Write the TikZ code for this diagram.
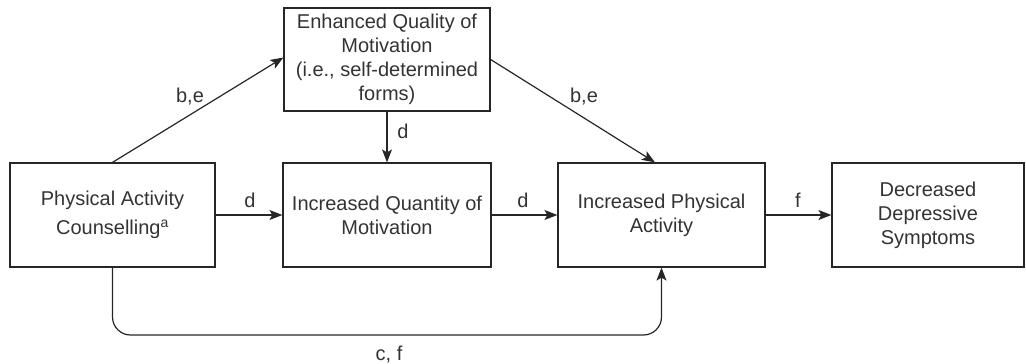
\documentclass[tikz,border=0pt]{standalone}
\usepackage{fontspec}
\setmainfont{Liberation Sans}
\usetikzlibrary{arrows.meta}
\begin{document}
\begin{tikzpicture}[x=1pt,y=-1pt,
  box/.style={draw=black!85,line width=1.2pt,align=center,inner sep=0pt,
    font=\fontsize{20}{24}\selectfont,text=black!80},
  conn/.style={draw=black!85,line width=1.2pt,-{Stealth[length=13pt,width=10pt,inset=3pt]}},
  lbl/.style={font=\fontsize{20}{24}\selectfont,text=black!80,inner sep=0pt}]
\useasboundingbox (0,0) rectangle (1026,364);
\node[box,minimum width=205pt,minimum height=104pt] (pa) at (112.5,215)
  {Physical Activity\\[5pt]Counselling\textsuperscript{a}};
\node[box,minimum width=206pt,minimum height=103pt] (eq) at (387,59.5)
  {Enhanced Quality of\\Motivation\\(i.e., self-determined\\forms)};
\node[box,minimum width=208pt,minimum height=104pt] (iq) at (387,215)
  {Increased Quantity of\\Motivation};
\node[box,minimum width=207pt,minimum height=104pt] (ipa) at (661.5,215)
  {Increased Physical\\Activity};
\node[box,minimum width=192pt,minimum height=104pt] (dds) at (928,215)
  {Decreased\\Depressive\\Symptoms};
\coordinate (cf) at (0,335);
\draw[conn] (pa.north) -- ([yshift=2pt]eq.west);
\draw[conn] ([yshift=0pt]eq.east) -- ([xshift=-6.5pt]ipa.north);
\draw[conn] (eq.south) -- (iq.north);
\draw[conn] (pa.east) -- (iq.west);
\draw[conn] (iq.east) -- (ipa.west);
\draw[conn] (ipa.east) -- (dds.west);
\draw[conn,rounded corners=18pt] (pa.south) -- (pa.south |- cf) -- (ipa.south |- cf) -- (ipa.south);
\node[lbl] (l1) at (190,97) {b,e};
\node[lbl] (l2) at (584,97) {b,e};
\node[lbl] (l3) at (403,131) {d};
\node[lbl] (l4) at (250,200) {d};
\node[lbl] (l5) at (523,200) {d};
\node[lbl] (l6) at (798,200) {f};
\node[lbl] (l7) at (389,355) {c, f};
\end{tikzpicture}
\end{document}
